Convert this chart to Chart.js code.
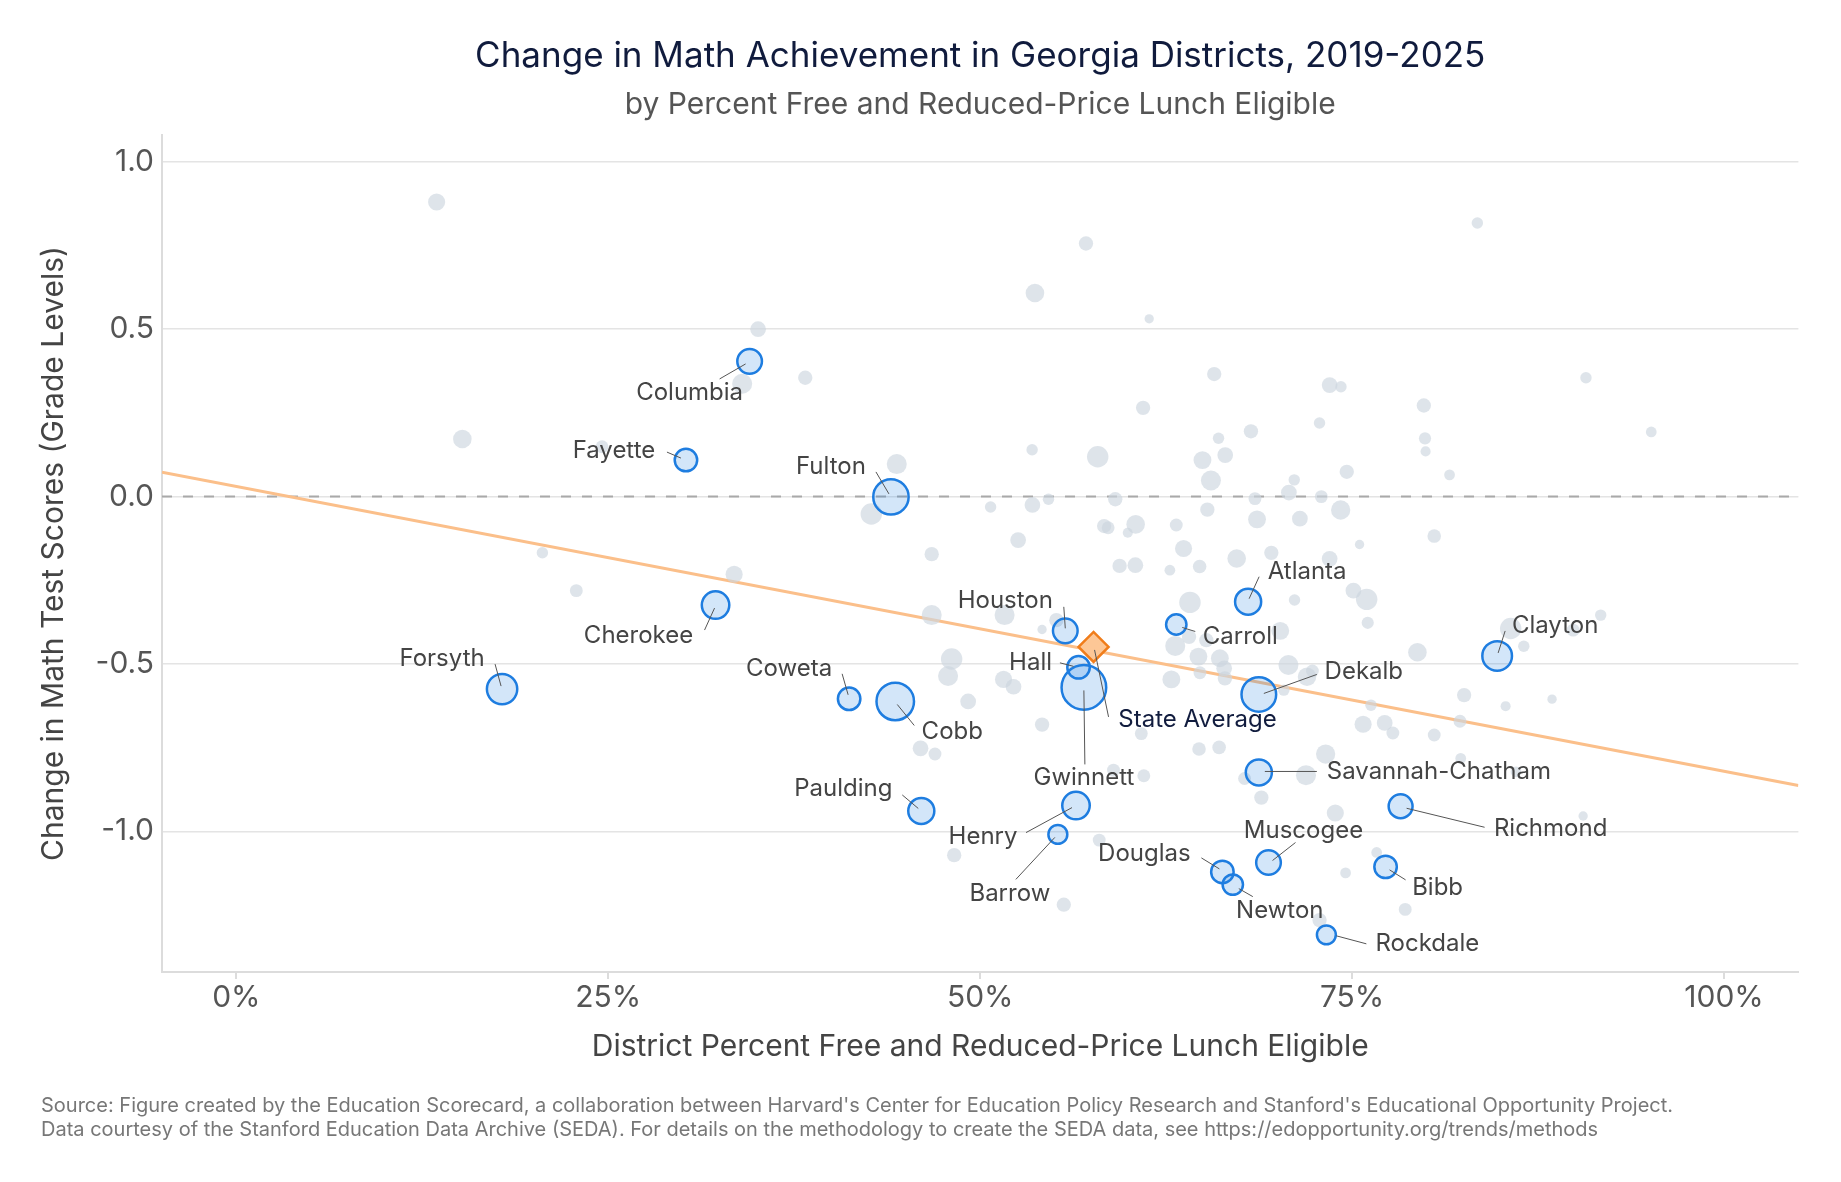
<!DOCTYPE html>
<html>
<head>
<meta charset="utf-8">
<script src="https://cdn.jsdelivr.net/npm/chart.js@4.4.1/dist/chart.umd.min.js"></script>
<style>
  html, body { margin: 0; padding: 0; background: #ffffff; }
  #wrap { position: relative; width: 1841px; height: 1182px; overflow: hidden; }
  canvas { display: block; }
  #footer { position: absolute; left: 41px; top: 1094px; font-family: Inter, "Noto Sans", sans-serif;
            font-size: 20px; line-height: 23.5px; color: #777777; white-space: nowrap; }
</style>
</head>
<body>
<div id="wrap">
  <canvas id="chart" width="1841" height="1182"></canvas>
  <div id="footer">Source: Figure created by the Education Scorecard, a collaboration between Harvard's Center for Education Policy Research and Stanford's Educational Opportunity Project.<br>Data courtesy of the Stanford Education Data Archive (SEDA). For details on the methodology to create the SEDA data, see https://edopportunity.org/trends/methods</div>
</div>
<script>
// ---------------- DATA ----------------
const titleText = 'Change in Math Achievement in Georgia Districts, 2019-2025';
const subtitleText = 'by Percent Free and Reduced-Price Lunch Eligible';
const xAxisTitle = 'District Percent Free and Reduced-Price Lunch Eligible';
const yAxisTitle = 'Change in Math Test Scores (Grade Levels)';

const xTickValues = [0, 25, 50, 75, 100];
const xTickLabels = ['0%', '25%', '50%', '75%', '100%'];
const yTickValues = [-1, -0.5, 0, 0.5, 1];
const yTickLabels = ['-1.0', '-0.5', '0.0', '0.5', '1.0'];

// Other districts (percent FRL, change in grade levels, enrollment in thousands)
const grayX = [13.46,15.19,24.58,20.57,22.85,57.11,53.68,61.36,35.07,34.0,38.24,65.73,60.95,68.2,66.02,66.47,64.94,65.51,53.49,57.9,44.39,42.68,50.7,53.51,54.59,59.08,65.27,68.47,68.61,58.33,58.6,60.45,59.92,63.18,52.55,63.67,46.74,67.24,83.42,90.72,95.11,73.49,74.25,72.81,79.82,79.9,79.94,81.55,74.64,71.11,70.75,72.93,74.23,71.49,80.52,75.5,69.57,33.46,59.37,60.43,62.75,64.75,46.74,51.64,54.16,55.12,64.1,63.11,64.04,65.2,64.67,66.11,66.4,64.77,66.45,62.85,48.08,47.84,51.57,52.24,49.19,54.16,60.83,45.99,46.96,64.71,66.06,58.96,61.0,58.0,48.25,55.62,73.49,71.13,75.09,75.98,76.05,70.17,79.39,85.66,86.54,89.86,91.71,70.72,71.97,72.33,70.41,82.53,85.32,88.44,76.27,82.25,75.74,77.19,77.74,80.52,73.22,82.3,71.9,67.77,68.9,73.87,90.53,76.65,74.56,78.57,72.81,86.02];
const grayY = [0.880,0.172,0.149,-0.168,-0.281,0.756,0.608,0.531,0.500,0.337,0.355,0.366,0.265,0.195,0.174,0.124,0.109,0.048,0.140,0.119,0.097,-0.052,-0.031,-0.025,-0.008,-0.008,-0.039,-0.006,-0.068,-0.088,-0.093,-0.083,-0.108,-0.085,-0.130,-0.155,-0.172,-0.185,0.817,0.355,0.193,0.333,0.328,0.220,0.272,0.174,0.135,0.065,0.074,0.050,0.012,0.000,-0.040,-0.066,-0.118,-0.143,-0.168,-0.232,-0.207,-0.205,-0.220,-0.209,-0.354,-0.354,-0.397,-0.369,-0.316,-0.446,-0.419,-0.429,-0.478,-0.483,-0.513,-0.526,-0.543,-0.546,-0.485,-0.536,-0.546,-0.568,-0.612,-0.681,-0.708,-0.752,-0.769,-0.754,-0.749,-0.817,-0.834,-1.026,-1.071,-1.219,-0.186,-0.309,-0.281,-0.307,-0.377,-0.401,-0.465,-0.394,-0.447,-0.399,-0.354,-0.503,-0.538,-0.521,-0.578,-0.593,-0.626,-0.605,-0.623,-0.671,-0.680,-0.676,-0.706,-0.712,-0.769,-0.782,-0.832,-0.842,-0.899,-0.945,-0.954,-1.063,-1.124,-1.233,-1.265,-0.822];
const grayEnroll = [13.1,17.1,4.4,2.5,4.4,6.8,17.1,0.7,9.7,21.6,6.8,6.8,6.8,6.8,2.5,9.7,15,21.6,2.5,26.6,21.6,26.6,2.5,9.7,2.5,6.8,6.8,4.4,15,6.8,4.4,17.1,1.2,4.4,9.7,13.1,6.8,17.1,2.5,2.5,1.8,9.7,2.5,2.5,6.8,3.4,1.2,1.8,6.8,2.5,9.7,4.4,19.3,9.7,5.5,0.7,6.8,13.1,6.8,9.7,1.8,5.5,21.6,21.6,0.7,6.8,26.6,21.6,6.8,6.8,15,15,9.7,4.4,6.8,15,26.6,21.6,13.1,9.7,9.7,6.8,4.4,9.7,4.4,5.5,5.5,4.4,4.4,4.4,6.8,6.8,9.7,2.5,9.7,26.6,3.4,15,17.1,26.6,2.5,4.4,2.5,21.6,17.1,4.4,2.5,6.8,1.2,0.7,2.5,4.4,13.1,9.7,4.4,4.4,19.3,1.8,21.6,4.4,6.8,13.1,0.7,1.8,1.8,4.4,6.8,1.8];

// Highlighted districts
const districtNames = ['Forsyth','Fayette','Columbia','Cherokee','Coweta','Cobb','Fulton','Paulding','Gwinnett','Houston','Hall','Henry','Barrow','Carroll','Atlanta','Dekalb','Savannah-Chatham','Douglas','Newton','Muscogee','Rockdale','Bibb','Richmond','Clayton'];
const districtX = [17.86,30.22,34.50,32.21,41.19,44.29,44.00,46.04,56.97,55.72,56.61,56.44,55.22,63.18,68.01,68.73,68.73,66.28,66.98,69.38,73.27,77.25,78.26,84.75];
const districtY = [-0.575,0.109,0.404,-0.324,-0.604,-0.612,-0.001,-0.939,-0.570,-0.401,-0.510,-0.923,-1.009,-0.382,-0.314,-0.591,-0.824,-1.121,-1.159,-1.093,-1.309,-1.106,-0.925,-0.476];
const districtEnroll = [69.6,30.6,39.7,53.6,30.6,118.7,102.6,46.4,180.7,39.7,30.6,53.6,18.1,22.8,46.4,97.4,46.4,30.6,22.8,39.7,18.1,30.6,36.5,65.4];

// State average
const stateAvgX = [57.62];
const stateAvgY = [-0.449];

// Fitted trend line (read at the plot's left and right edges)
const fitX = [-5, 105];
const fitY = [0.073, -0.863];

// Zero reference
const zeroX = [-5, 105];
const zeroY = [0, 0];

// ---------------- STYLE / LAYOUT ----------------
const FONT = 'Inter, "Noto Sans", sans-serif';
const sizeToRadius = e => 3.5 + 1.4 * Math.sqrt(e);

const labelLayout = {
  'Columbia': {t:[-60,31], l:[-30,17.6,-4,2.6]},
  'Fayette': {t:[-72,-9], l:[-19,-8,-5,-2]},
  'Fulton': {t:[-60,-30], l:[-15,-25,-2,-3]},
  'Cherokee': {t:[-77,31], l:[-11,25,-1,3]},
  'Forsyth': {t:[-60,-30], l:[-7,-25,-1,-3]},
  'Coweta': {t:[-60,-30], l:[-7,-25,-1,-4]},
  'Cobb': {t:[57,30], l:[2,3,19,24]},
  'Paulding': {t:[-78,-22], l:[-19,-16,-3,-2.5]},
  'Houston': {t:[-60,-30], l:[-1.5,-24,0,-2.5]},
  'Hall': {t:[-48,-5], l:[-18.6,-4.5,-5,-1]},
  'Gwinnett': {t:[0,90], l:[0,3,1,77]},
  'Henry': {t:[-93,31], l:[-50,27,-4,2]},
  'Barrow': {t:[-48,59], l:[-42,45,-3,3]},
  'Carroll': {t:[64,12], l:[6,3,19,7]},
  'Atlanta': {t:[59,-30], l:[11,-25,1,-3]},
  'Dekalb': {t:[105,-23], l:[58,-20,5,-1]},
  'Clayton': {t:[58,-30], l:[8,-25,1,-3]},
  'Savannah-Chatham': {t:[180,-1], l:[58,-1,6,-1]},
  'Richmond': {t:[150,23], l:[84,21,6,2]},
  'Muscogee': {t:[35,-32], l:[27,-20,4,-2]},
  'Douglas': {t:[-78,-18], l:[-21,-14,-3,-3]},
  'Newton': {t:[47,26], l:[6,4,20,12]},
  'Bibb': {t:[52,21], l:[4,3,20,13]},
  'Rockdale': {t:[101,9], l:[10,1,40,9]}
};
const stateLabelLayout = {text:'State Average', t:[104,73], l:[1,3,15,70]};

function drawLabel(ctx, px, py, text, lay, color) {
  ctx.save();
  ctx.strokeStyle = '#555555';
  ctx.lineWidth = 1;
  ctx.beginPath();
  ctx.moveTo(px + lay.l[0], py + lay.l[1]);
  ctx.lineTo(px + lay.l[2], py + lay.l[3]);
  ctx.stroke();
  ctx.font = '24px ' + FONT;
  ctx.fillStyle = color;
  ctx.textAlign = 'center';
  ctx.textBaseline = 'middle';
  ctx.fillText(text, px + lay.t[0], py + lay.t[1]);
  ctx.restore();
}

const annotationPlugin = {
  id: 'annotations',
  afterDatasetsDraw(chart) {
    const ctx = chart.ctx;
    const xs = chart.scales.x, ys = chart.scales.y;
    districtNames.forEach((name, i) => {
      const lay = labelLayout[name];
      if (!lay) return;
      drawLabel(ctx, xs.getPixelForValue(districtX[i]), ys.getPixelForValue(districtY[i]), name, lay, '#444444');
    });
    drawLabel(ctx, xs.getPixelForValue(stateAvgX[0]), ys.getPixelForValue(stateAvgY[0]),
              stateLabelLayout.text, stateLabelLayout, '#111c3e');
  },
  afterDraw(chart) {
    const ctx = chart.ctx;
    const cx = (chart.chartArea.left + chart.chartArea.right) / 2;
    ctx.save();
    ctx.textAlign = 'center';
    ctx.textBaseline = 'middle';
    ctx.fillStyle = '#101b3d';
    ctx.font = '35px ' + FONT;
    ctx.fillText(titleText, cx, 56);
    ctx.fillStyle = '#555555';
    ctx.font = '30px ' + FONT;
    ctx.fillText(subtitleText, cx, 105);
    ctx.restore();
  }
};

const pts = (xa, ya) => xa.map((x, i) => ({x: x, y: ya[i]}));

new Chart(document.getElementById('chart'), {
  type: 'scatter',
  data: {
    datasets: [
      { type: 'scatter', label: 'State Average', data: pts(stateAvgX, stateAvgY),
        pointStyle: 'rectRot', pointRadius: 15, backgroundColor: '#fdc796', borderColor: '#f07d1b', borderWidth: 2.5, order: 0 },
      { type: 'scatter', label: 'Highlighted districts', data: pts(districtX, districtY),
        pointRadius: districtEnroll.map(sizeToRadius), backgroundColor: 'rgba(33,128,226,0.2)',
        borderColor: '#1e7de0', borderWidth: 2.5, order: 1 },
      { type: 'scatter', label: 'Other districts', data: pts(grayX, grayY),
        pointRadius: grayEnroll.map(sizeToRadius), backgroundColor: 'rgba(205,213,222,0.65)',
        borderWidth: 0, order: 2 },
      { type: 'line', label: 'Trend', data: pts(fitX, fitY), borderColor: '#fbbf8a', borderWidth: 3,
        pointRadius: 0, fill: false, order: 3 },
      { type: 'line', label: 'Zero', data: pts(zeroX, zeroY), borderColor: '#a9a9a9', borderWidth: 2,
        borderDash: [10, 11], pointRadius: 0, fill: false, order: 4 }
    ]
  },
  options: {
    responsive: false,
    animation: false,
    devicePixelRatio: 1,
    events: [],
    layout: { padding: { top: 135, right: 42.6, bottom: 0, left: 0 } },
    plugins: { legend: { display: false }, tooltip: { enabled: false }, title: { display: false } },
    scales: {
      x: {
        type: 'linear', min: -5, max: 105,
        afterFit: s => { s.height = 210; },
        afterBuildTicks: s => { s.ticks = xTickValues.map(v => ({value: v})); },
        ticks: { callback: (v, i) => xTickLabels[i], font: { family: FONT, size: 30 }, color: '#555555', padding: 1 },
        grid: { drawOnChartArea: false, drawTicks: true, tickLength: 7, tickColor: '#dcdcdc', lineWidth: 2 },
        border: { display: true, color: '#dcdcdc', width: 2 },
        title: { display: true, text: xAxisTitle, font: { family: FONT, size: 30 }, color: '#444444',
                 padding: { top: 0, bottom: 117 } }
      },
      y: {
        type: 'linear', min: -1.42, max: 1.08,
        afterFit: s => { s.width = 162; },
        afterBuildTicks: s => { s.ticks = yTickValues.map(v => ({value: v})); },
        ticks: { callback: (v, i) => yTickLabels[i], font: { family: FONT, size: 30 }, color: '#555555', padding: 8 },
        grid: { color: '#e4e4e4', lineWidth: 1.5, drawTicks: false },
        border: { display: true, color: '#dcdcdc', width: 2 },
        title: { display: true, text: yAxisTitle, font: { family: FONT, size: 30 }, color: '#444444',
                 padding: { top: 36, bottom: 0 } }
      }
    }
  },
  plugins: [annotationPlugin]
});
</script>
</body>
</html>
